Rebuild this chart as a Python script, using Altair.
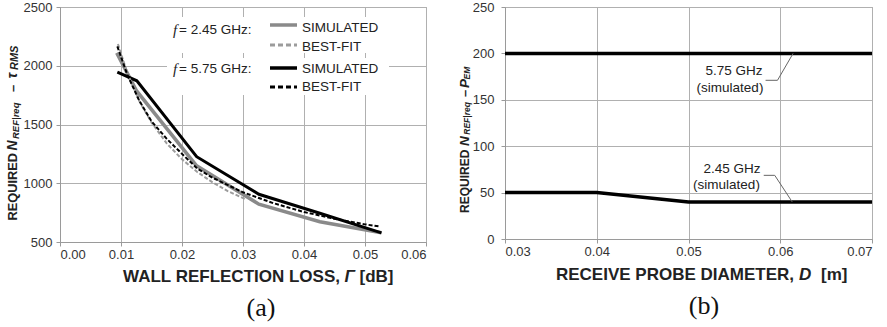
import altair as alt
import pandas as pd

FONT = "Liberation Sans"
SERIF = "Liberation Serif"

# ---------------- data: panel (a) ----------------
a_x_ticks = [0.0, 0.01, 0.02, 0.03, 0.04, 0.05, 0.06]
a_y_ticks = [500, 1000, 1500, 2000, 2500]

sim245_x = [0.0093, 0.0125, 0.0224, 0.0326, 0.0426, 0.0527]
sim245_y = [2110, 1790, 1148, 822, 672, 578]

sim575_x = [0.0094, 0.0126, 0.0224, 0.0326, 0.0426, 0.0527]
sim575_y = [1945, 1872, 1226, 906, 745, 578]

fit245_x = [0.0095, 0.011, 0.013, 0.015, 0.0175, 0.020, 0.0225, 0.025, 0.0275, 0.0305]
fit245_y = [2185, 1943, 1700, 1517, 1339, 1204, 1096, 1008, 933, 862]

fit575_x = [0.0094, 0.011, 0.013, 0.015, 0.0175, 0.020, 0.0225, 0.025, 0.030, 0.035, 0.040, 0.045, 0.050, 0.0525]
fit575_y = [2165, 1929, 1702, 1527, 1378, 1250, 1126, 1047, 923, 830, 755, 698, 650, 632]

legend_groups = ["= 2.45 GHz:", "= 5.75 GHz:"]
legend_labels = ["SIMULATED", "BEST-FIT", "SIMULATED", "BEST-FIT"]

# ---------------- data: panel (b) ----------------
b_x_ticks = [0.03, 0.04, 0.05, 0.06, 0.07]
b_y_ticks = [0, 50, 100, 150, 200, 250]

diam = [0.03, 0.04, 0.05, 0.06, 0.07]
n575 = [200, 200, 200, 200, 200]
n245 = [50, 50, 40, 40, 40]

lead575_x = [0.0584, 0.0597, 0.0614]
lead575_y = [171, 171, 200]
lead245_x = [0.0582, 0.0594, 0.0613]
lead245_y = [68.6, 68.6, 40]

ann_labels = ["5.75 GHz", "(simulated)", "2.45 GHz", "(simulated)"]

GRAY = "#8a8a8a"
GRAY_FIT = "#9c9c9c"
BLACK = "#000000"
TXT = "#222222"


def one():
    return pd.DataFrame({"k": [0]})


def ptext(text, x, y, size=13, weight="normal", style="normal", font=FONT,
          align="left", baseline="middle", angle=0, color=TXT):
    return alt.Chart(pd.DataFrame({"t": [text]})).mark_text(
        align=align, baseline=baseline, font=font, fontSize=size,
        fontWeight=weight, fontStyle=style, angle=angle, color=color
    ).encode(x=alt.value(x), y=alt.value(y), text="t:N")


def prule(x, x2, y, color, width, dash=None):
    kw = dict(color=color, strokeWidth=width)
    if dash:
        kw["strokeDash"] = dash
    return alt.Chart(one()).mark_rule(**kw).encode(
        x=alt.value(x), x2=alt.value(x2), y=alt.value(y))


def prect(x, x2, y, y2):
    return alt.Chart(one()).mark_rect(color="white").encode(
        x=alt.value(x), x2=alt.value(x2), y=alt.value(y), y2=alt.value(y2))


def series(xs, ys, x_enc, y_enc, color, width, dash=None):
    kw = dict(color=color, strokeWidth=width, strokeCap="butt", strokeJoin="miter")
    if dash:
        kw["strokeDash"] = dash
    return alt.Chart(pd.DataFrame({"x": xs, "y": ys})).mark_line(**kw).encode(
        x=x_enc, y=y_enc)


# ---------------- panel (a) ----------------
ax_a = alt.X("x:Q", scale=alt.Scale(domain=[0, 0.06], nice=False),
             axis=alt.Axis(values=a_x_ticks, format=".2f", title=None, labelPadding=2))
ay_a = alt.Y("y:Q", scale=alt.Scale(domain=[500, 2500], nice=False),
             axis=alt.Axis(values=a_y_ticks, format="d", title=None, labelPadding=4))

layers_a = [
    series(sim245_x, sim245_y, ax_a, ay_a, GRAY, 3.5),
    series(sim575_x, sim575_y, ax_a, ay_a, BLACK, 3),
    series(fit245_x, fit245_y, ax_a, ay_a, GRAY_FIT, 2, [4, 2]),
    series(fit575_x, fit575_y, ax_a, ay_a, BLACK, 2, [4, 2]),
    # legend background boxes
    prect(107, 329, 10, 46),
    prect(107, 329, 51, 88),
    # legend group labels
    ptext("f", 113, 23, size=15, style="italic", font=SERIF),
    ptext(legend_groups[0], 119, 23, size=13.5),
    ptext("f", 113, 62, size=15, style="italic", font=SERIF),
    ptext(legend_groups[1], 119, 62, size=13.5),
    # legend samples
    prule(210, 237, 18, GRAY, 3.5),
    prule(210, 237, 38, GRAY_FIT, 3, [5, 3]),
    prule(210, 237, 61, BLACK, 3.5),
    prule(210, 237, 80, BLACK, 3, [5, 3]),
    ptext(legend_labels[0], 242, 21, size=13.5),
    ptext(legend_labels[1], 242, 39.5, size=13.5),
    ptext(legend_labels[2], 242, 62, size=13.5),
    ptext(legend_labels[3], 242, 79.5, size=13.5),
    # y title (rotated pieces)
    ptext("REQUIRED", -43.5, 213.5, size=12.8, weight="bold", angle=270, baseline="alphabetic"),
    ptext("N", -43.5, 143.5, size=14, weight="bold", style="italic", angle=270, baseline="alphabetic"),
    ptext("REF|req", -41.5, 132, size=9.5, weight="bold", style="italic", angle=270, baseline="alphabetic"),
    ptext("\u2013", -43.5, 85, size=13, weight="bold", angle=270, baseline="alphabetic"),
    ptext("\u03c4", -43.5, 71.5, size=14, weight="bold", style="italic", angle=270, baseline="alphabetic"),
    ptext("RMS", -42, 63, size=11, weight="bold", style="italic", angle=270, baseline="alphabetic"),
    # x title
    ptext("WALL REFLECTION LOSS,", 280, 269.7, size=17, weight="bold", align="right"),
    ptext("\u0393", 284.5, 269.7, size=17, weight="bold", style="italic"),
    ptext("[dB]", 299.5, 269.7, size=17, weight="bold"),
    ptext("(a)", 201, 301, size=26, font=SERIF, align="center", color="#111"),
]
left = alt.layer(*layers_a).properties(width=366, height=235)

# ---------------- panel (b) ----------------
ax_b = alt.X("x:Q", scale=alt.Scale(domain=[0.03, 0.07], nice=False),
             axis=alt.Axis(values=b_x_ticks, format=".2f", title=None, labelPadding=2))
ay_b = alt.Y("y:Q", scale=alt.Scale(domain=[0, 250], nice=False),
             axis=alt.Axis(values=b_y_ticks, format="d", title=None, labelPadding=7))

layers_b = [
    series(diam, n575, ax_b, ay_b, BLACK, 3.5),
    series(diam, n245, ax_b, ay_b, BLACK, 3.5),
    series(lead575_x, lead575_y, ax_b, ay_b, "#666666", 1),
    series(lead245_x, lead245_y, ax_b, ay_b, "#666666", 1),
    ptext(ann_labels[0], 229, 64, size=13.5, align="center"),
    ptext(ann_labels[1], 225, 81, size=13.5, align="center"),
    ptext(ann_labels[2], 227, 161.7, size=13.5, align="center"),
    ptext(ann_labels[3], 221.5, 177.7, size=13.5, align="center"),
    # y title
    ptext("REQUIRED", -36.5, 206, size=12, weight="bold", angle=270, baseline="alphabetic"),
    ptext("N", -36.5, 139, size=13.5, weight="bold", style="italic", angle=270, baseline="alphabetic"),
    ptext("REF|req", -35, 127.7, size=8.5, weight="bold", style="italic", angle=270, baseline="alphabetic"),
    ptext("\u2013", -36.5, 90, size=13, weight="bold", angle=270, baseline="alphabetic"),
    ptext("P", -36.5, 81, size=13.5, weight="bold", style="italic", angle=270, baseline="alphabetic"),
    ptext("EM", -35, 72.5, size=8.5, weight="bold", style="italic", angle=270, baseline="alphabetic"),
    # x title
    ptext("RECEIVE PROBE DIAMETER,", 289, 267.7, size=17, weight="bold", align="right"),
    ptext("D", 294, 267.7, size=17, weight="bold", style="italic"),
    ptext("[m]", 316, 267.7, size=17, weight="bold"),
    ptext("(b)", 199, 299, size=26, font=SERIF, align="center", color="#111"),
]
right = alt.layer(*layers_b).properties(width=367, height=232)

chart = alt.hconcat(left, right, spacing=30).properties(
    padding={"left": 5, "top": 0, "right": 0, "bottom": 0},
    background="white",
).configure_view(
    stroke="#9a9a9a", strokeWidth=1
).configure_axis(
    labelFont=FONT, labelFontSize=13, labelColor="#333333",
    tickSize=4, tickColor="#9a9a9a", domainColor="#9a9a9a",
    gridColor="#b0b0b0", gridWidth=1, grid=True,
)

chart.save("out.html", embed_options={"renderer": "svg", "actions": False})
